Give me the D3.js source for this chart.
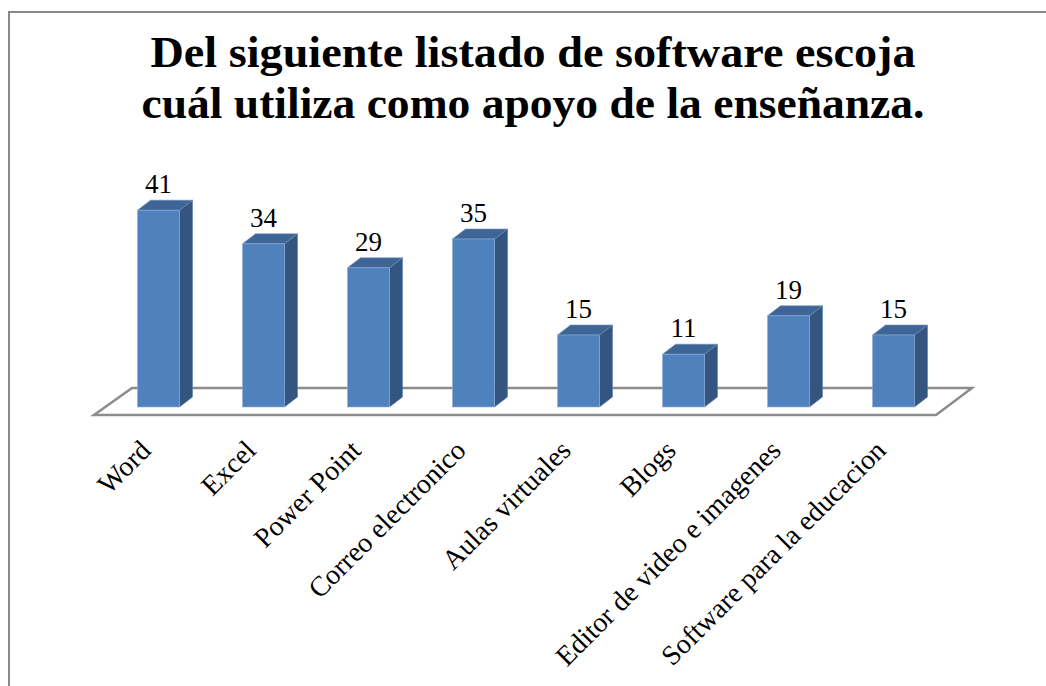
<!DOCTYPE html>
<html>
<head>
<meta charset="utf-8">
<script src="https://cdn.jsdelivr.net/npm/d3@7"></script>
<style>
  body { margin: 0; background: #fff; }
  text { font-family: "Liberation Serif", "DejaVu Serif", serif; fill: #000; }
</style>
</head>
<body>
<div id="chart"></div>
<script>
// data
const categories = ["Word", "Excel", "Power Point", "Correo electronico",
  "Aulas virtuales", "Blogs", "Editor de video e imagenes", "Software para la educacion"];
const values = [41, 34, 29, 35, 15, 11, 19, 15];
const titleLines = ["Del siguiente listado de software escoja",
  "cuál utiliza como apoyo de la enseñanza."];
const titleWidths = [765, 783];

const svgWidth = 1046;
const svgHeight = 686;

// 3d offsets of the bars
const depthX = 13;
const depthY = 10;

const svg = d3.select("#chart")
  .append("svg")
  .attr("width", svgWidth)
  .attr("height", svgHeight);

// outer chart border (runs off the right and bottom edge)
svg.append("rect")
  .attr("x", 9)
  .attr("y", 12)
  .attr("width", 1100)
  .attr("height", 760)
  .attr("fill", "#fff")
  .attr("stroke", "#888")
  .attr("stroke-width", 2);

// title
svg.append("g")
  .selectAll("text")
  .data(titleLines)
  .enter()
  .append("text")
  .attr("x", 533)
  .attr("y", (d, i) => 67 + i * 51)
  .attr("text-anchor", "middle")
  .attr("textLength", (d, i) => titleWidths[i])
  .attr("lengthAdjust", "spacingAndGlyphs")
  .style("font-size", "44px")
  .style("font-weight", "bold")
  .text(d => d);

// scales
const x = d3.scaleBand()
  .domain(categories)
  .range([106, 946])
  .paddingInner(0.6)
  .paddingOuter(0.3);

const y = d3.scaleLinear()
  .domain([0, 45])
  .range([407, 407 - 45 * 4.8]);

// floor
svg.append("polygon")
  .attr("points", [[94, 415], [936, 415], [972, 388], [132, 388]].map(p => p.join(",")).join(" "))
  .attr("fill", "#fff")
  .attr("stroke", "#8c8c8c")
  .attr("stroke-width", 2.5);

const bars = svg.append("g")
  .selectAll("g")
  .data(values)
  .enter()
  .append("g");

// side face
bars.append("polygon")
  .attr("points", (d, i) => {
    const x1 = x(categories[i]) + x.bandwidth();
    return [[x1, y(d)], [x1 + depthX, y(d) - depthY], [x1 + depthX, y(0) - depthY], [x1, y(0)]]
      .map(p => p.join(",")).join(" ");
  })
  .attr("fill", "#34557f")
  .attr("stroke", "#5d7fa8")
  .attr("stroke-width", 0.6);

// top face
bars.append("polygon")
  .attr("points", (d, i) => {
    const x0 = x(categories[i]);
    const x1 = x0 + x.bandwidth();
    return [[x0, y(d)], [x1, y(d)], [x1 + depthX, y(d) - depthY], [x0 + depthX, y(d) - depthY]]
      .map(p => p.join(",")).join(" ");
  })
  .attr("fill", "#3d6596")
  .attr("stroke", "#6f90b8")
  .attr("stroke-width", 0.6);

// front face
bars.append("rect")
  .attr("x", (d, i) => x(categories[i]))
  .attr("y", d => y(d))
  .attr("width", x.bandwidth())
  .attr("height", d => y(0) - y(d))
  .attr("fill", "#4f81bd")
  .attr("stroke", "#8fb0d8")
  .attr("stroke-width", 0.6);

// value labels
bars.append("text")
  .attr("x", (d, i) => x(categories[i]) + x.bandwidth() / 2)
  .attr("y", d => y(d) - 17)
  .attr("text-anchor", "middle")
  .style("font-size", "27px")
  .text(d => d);

// category labels
svg.append("g")
  .selectAll("text")
  .data(categories)
  .enter()
  .append("text")
  .attr("transform", d => `translate(${x(d) + x.bandwidth() / 2 - 6}, 452) rotate(-45)`)
  .attr("text-anchor", "end")
  .style("font-size", "28px")
  .text(d => d);
</script>
</body>
</html>
